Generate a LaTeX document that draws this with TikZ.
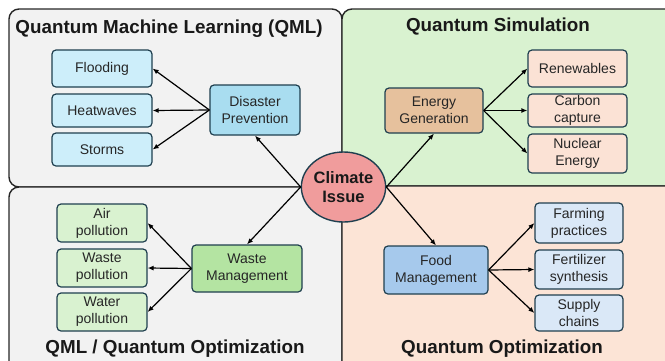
\documentclass[tikz,border=0pt]{standalone}
\usepackage{fontspec}
\setmainfont{Liberation Sans}
\usetikzlibrary{arrows.meta,shapes.geometric}
\definecolor{qgrey}{HTML}{F2F2F2}
\definecolor{qgreen}{HTML}{D9F2D0}
\definecolor{qpeach}{HTML}{FCE4D6}
\definecolor{bordk}{HTML}{1F3F4F}
\definecolor{cblue}{HTML}{CDEEFA}
\definecolor{cbluedk}{HTML}{A9DDF0}
\definecolor{ctan}{HTML}{E6C19D}
\definecolor{cpeach}{HTML}{FBE2D5}
\definecolor{cgreendk}{HTML}{B4E4A2}
\definecolor{cgreen}{HTML}{D9F2D0}
\definecolor{cfood}{HTML}{A6C9EC}
\definecolor{cfoodlt}{HTML}{DAE8F7}
\definecolor{cred}{HTML}{F09C9C}
\tikzset{
  quad/.style={draw=black!85, line width=1.4pt, rounded corners=10pt},
  qtitle/.style={font=\fontsize{18.8}{21}\selectfont\bfseries, text=black!90},
  box/.style={draw=bordk, line width=1.2pt, rounded corners=4pt, inner sep=0pt, align=center,
    font=\fontsize{14}{17}\selectfont, text=black!85},
  arr/.style={-{Latex[length=6pt,width=5pt]}, line width=1.2pt, black},
}
\begin{document}
\begin{tikzpicture}[x=1pt,y=-1pt]
\useasboundingbox (0,0) rectangle (665,360);
\clip (0,0) rectangle (665,360);
% quadrants
\draw[quad, fill=qgrey] (9,9) rectangle (342,187);
\draw[quad, fill=qgreen] (342,9) rectangle (690,186);
\draw[quad, fill=qgrey] (9,187) rectangle (342,390);
\draw[quad, fill=qpeach] (342,186) rectangle (690,390);
% titles
\node[qtitle] (t1) at (169,28.5) {Quantum Machine Learning (QML)};
\node[qtitle] (t2) at (498,26.5) {Quantum Simulation};
\node[qtitle] (t3) at (175,349) {QML / Quantum Optimization};
\node[qtitle] (t4) at (502,349) {Quantum Optimization};
% QML
\node[box, fill=cblue, minimum width=100pt, minimum height=37pt] (flood) at (102,68.5) {Flooding};
\node[box, fill=cblue, minimum width=100pt, minimum height=33pt] (heat) at (102,110.5) {Heatwaves};
\node[box, fill=cblue, minimum width=100pt, minimum height=33pt] (storm) at (102,149.5) {Storms};
\node[box, fill=cbluedk, minimum width=90pt, minimum height=50pt] (dp) at (255,110) {Disaster\\Prevention};
% Simulation
\node[box, fill=ctan, minimum width=98pt, minimum height=45pt] (eg) at (434,110.5) {Energy\\Generation};
\node[box, fill=cpeach, minimum width=99pt, minimum height=37pt] (ren) at (577.5,68.5) {Renewables};
\node[box, fill=cpeach, minimum width=99pt, minimum height=33pt] (carb) at (577.5,110.5) {Carbon\\capture};
\node[box, fill=cpeach, minimum width=99pt, minimum height=39pt] (nuc) at (577.5,153.5) {Nuclear\\Energy};
% Waste
\node[box, fill=cgreendk, minimum width=110pt, minimum height=47pt] (wm) at (247,268.5) {Waste\\Management};
\node[box, fill=cgreen, minimum width=90pt, minimum height=38pt] (air) at (102,223) {Air\\pollution};
\node[box, fill=cgreen, minimum width=90pt, minimum height=38pt] (wpol) at (102,268) {Waste\\pollution};
\node[box, fill=cgreen, minimum width=90pt, minimum height=38pt] (wat) at (102,312) {Water\\pollution};
% Food
\node[box, fill=cfood, minimum width=104pt, minimum height=48pt] (food) at (436,270) {Food\\Management};
\node[box, fill=cfoodlt, minimum width=88pt, minimum height=40pt] (farm) at (579,223) {Farming\\practices};
\node[box, fill=cfoodlt, minimum width=88pt, minimum height=39pt] (fert) at (579,269.5) {Fertilizer\\synthesis};
\node[box, fill=cfoodlt, minimum width=88pt, minimum height=36pt] (sup) at (579,313) {Supply\\chains};
% centre
\node[draw=bordk, line width=1.4pt, fill=cred, ellipse, minimum width=79pt, minimum height=70pt, inner sep=0pt,
  align=center, font=\fontsize{16.5}{19.5}\selectfont\bfseries, text=black!90] (cl) at (343.5,187) {Climate\\Issue};
% arrows
\draw[arr] (dp.west) -- (flood.east);
\draw[arr] (dp.west) -- (heat.east);
\draw[arr] (dp.west) -- (storm.east);
\draw[arr] (eg.east) -- (ren.west);
\draw[arr] (eg.east) -- (carb.west);
\draw[arr] (eg.east) -- (nuc.west);
\draw[arr] (wm.west) -- (air.east);
\draw[arr] (wm.west) -- (wpol.east);
\draw[arr] (wm.west) -- (wat.east);
\draw[arr] (food.east) -- (farm.west);
\draw[arr] (food.east) -- (fert.west);
\draw[arr] (food.east) -- (sup.west);
\draw[arr] (cl.west) -- (dp.south);
\draw[arr] (cl.west) -- (wm.north);
\draw[arr] (cl.east) -- (eg.south);
\draw[arr] (cl.east) -- (food.north);
\end{tikzpicture}
\end{document}
